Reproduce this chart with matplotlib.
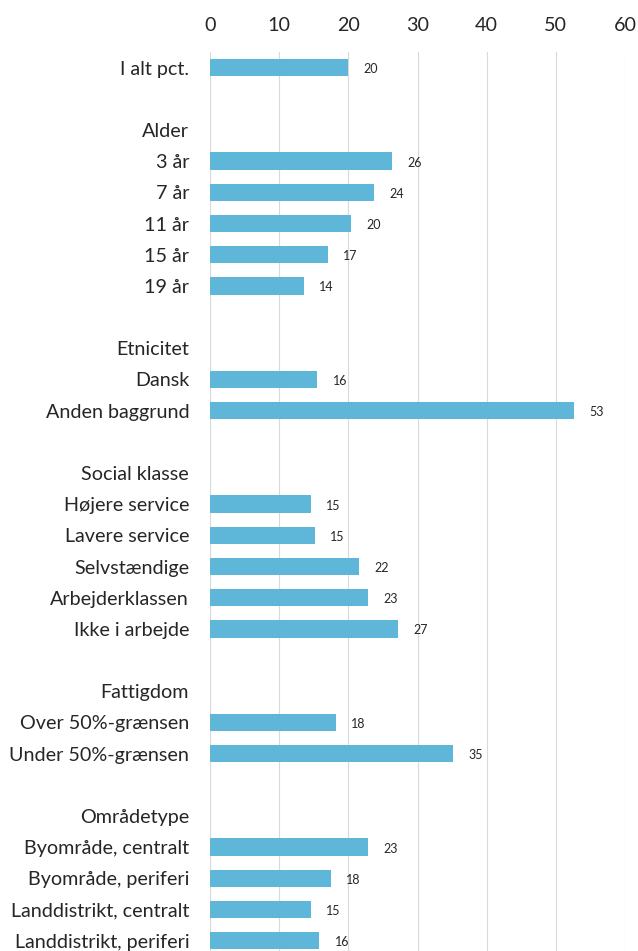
import matplotlib.pyplot as plt
import numpy as np

plt.rcParams['font.family'] = ['Lato', 'DejaVu Sans']

# rækker i diagrammet (tomme rækker = mellemrum, None = ingen søjle)
labels = ['I alt pct.', '',
          'Alder', '3 år', '7 år', '11 år', '15 år', '19 år', '',
          'Etnicitet', 'Dansk', 'Anden baggrund', '',
          'Social klasse', 'Højere service', 'Lavere service', 'Selvstændige',
          'Arbejderklassen', 'Ikke i arbejde', '',
          'Fattigdom', 'Over 50%-grænsen', 'Under 50%-grænsen', '',
          'Områdetype', 'Byområde, centralt', 'Byområde, periferi',
          'Landdistrikt, centralt', 'Landdistrikt, periferi']
values = [19.9, None,
          None, 26.3, 23.7, 20.4, 17.0, 13.6, None,
          None, 15.5, 52.6, None,
          None, 14.6, 15.2, 21.6, 22.8, 27.2, None,
          None, 18.2, 35.1, None,
          None, 22.8, 17.5, 14.6, 15.8]
xticks = [0, 10, 20, 30, 40, 50, 60]

bar_color = '#5EB6D9'

fig = plt.figure(figsize=(6.38, 9.51), dpi=100)
ax = fig.add_axes([210 / 638, 0.0, 415 / 638, 1 - 52 / 951])

y = np.arange(len(labels))
for yi, v in zip(y, values):
    if v is None:
        continue
    ax.barh(yi, v, height=0.56, color=bar_color, zorder=3)
    ax.annotate(f'{v:.0f}', (v, yi), xytext=(11, -1), textcoords='offset points',
                ha='left', va='center', fontsize=9, color='#262626')

ax.set_xlim(0, 60)
ax.set_ylim(28.33, -0.5)
ax.set_yticks(y)
ax.set_yticklabels(labels, fontsize=14.2, color='#262626')
ax.set_xticks(xticks)
ax.xaxis.tick_top()
ax.tick_params(axis='x', length=0, pad=13, labelsize=14.2, labelcolor='#262626')
ax.tick_params(axis='y', length=0, pad=15)

ax.grid(axis='x', color='#D9D9D9', linewidth=0.8, zorder=0)
for s in ax.spines.values():
    s.set_visible(False)

fig.savefig('out.png', dpi=100)
